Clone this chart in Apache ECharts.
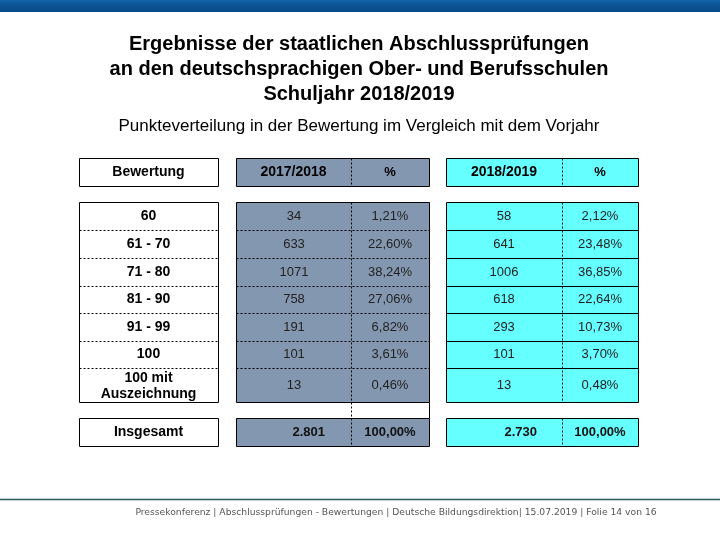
<!DOCTYPE html>
<html><head><meta charset="utf-8">
<script src="https://cdn.jsdelivr.net/npm/echarts@6/dist/echarts.min.js"></script>
<style>html,body{margin:0;padding:0;background:#fff}#c{width:720px;height:540px}</style>
</head><body><div id="c"></div>
<script>
// ---- data ----
const titleLines = ['Ergebnisse der staatlichen Abschlussprüfungen','an den deutschsprachigen Ober- und Berufsschulen','Schuljahr 2018/2019'];
const subtitle = 'Punkteverteilung in der Bewertung im Vergleich mit dem Vorjahr';
const footer = 'Pressekonferenz | Abschlussprüfungen - Bewertungen | Deutsche Bildungsdirektion| 15.07.2019 | Folie 14 von 16';
const headers = ['Bewertung','2017/2018','%','2018/2019','%'];
const bewertung = ['60','61 - 70','71 - 80','81 - 90','91 - 99','100','100 mit\nAuszeichnung'];
const anzahl2018 = [34,633,1071,758,191,101,13];
const prozent2018 = [1.21,22.60,38.24,27.06,6.82,3.61,0.46];
const anzahl2019 = [58,641,1006,618,293,101,13];
const prozent2019 = [2.12,23.48,36.85,22.64,10.73,3.70,0.48];
const totalLabel = 'Insgesamt';
const total2018 = 2801, totalPct2018 = 100.00;
const total2019 = 2730, totalPct2019 = 100.00;

// ---- layout ----
const COL = {bew:[79,218], g:[236,351,429], c:[446,562,638]};
const HEAD = [158,186];
const ROWS = [202,230,258,286,313,341,368,402];
const TOT = [418,446];
const GRAY = '#8497b0', CYAN = '#66ffff';
const FONT = '"Liberation Sans", Arial, sans-serif';

function pct(v){return v.toFixed(2).replace('.',',')+'%';}
function thou(n){return String(n).replace(/\B(?=(\d{3})+(?!\d))/g,'.');}

const chart = echarts.init(document.getElementById('c'), null, {renderer:'canvas'});

function txt(p, s, opt){
  return {type:'text', z2:20, style:Object.assign({x:p[0], y:p[1], text:s, align:'center', verticalAlign:'middle',
    fill:'#000', font:'14px '+FONT}, opt||{})};
}
function rectShape(api,x0,y0,x1,y1){
  const a = api.coord([x0,y0]), b = api.coord([x1,y1]);
  return {x:a[0], y:a[1], width:b[0]-a[0], height:b[1]-a[1]};
}
function line(api,x0,y0,x1,y1,dash){
  const a = api.coord([x0,y0]), b = api.coord([x1,y1]);
  return {type:'line', z2:10, shape:{x1:a[0]+0.5,y1:a[1]+0.5,x2:b[0]+0.5,y2:b[1]+0.5},
    style:{stroke:'#000', lineWidth:1, lineDash:dash?[2,2]:null}};
}

const bodyData = bewertung.map((b,i)=>[i, anzahl2018[i], prozent2018[i], anzahl2019[i], prozent2019[i]]);

const option = {
  animation:false,
  grid:{left:0,right:0,top:0,bottom:0},
  xAxis:{type:'value',min:0,max:720,show:false},
  yAxis:{type:'value',min:0,max:540,inverse:true,show:false},
  graphic:[
    {type:'rect', left:0, top:0, shape:{width:720,height:12}, style:{fill:new echarts.graphic.LinearGradient(0,0,0,1,[{offset:0,color:'#1463aa'},{offset:0.5,color:'#0b5394'},{offset:1,color:'#0a4a86'}])}},
    ...titleLines.map((t,i)=>({type:'text', x:359, y:44+i*25, style:{text:t, align:'center', verticalAlign:'middle', font:'bold 20px '+FONT, fill:'#000'}})),
    {type:'text', x:359, y:126, style:{text:subtitle, align:'center', verticalAlign:'middle', font:'17px '+FONT, fill:'#000'}},
    {type:'line', shape:{x1:0,y1:499.5,x2:720,y2:499.5}, style:{stroke:'#2d5a5a', lineWidth:1.5}},
    {type:'text', x:396, y:513, style:{text:footer, align:'center', verticalAlign:'middle', font:'9.2px "DejaVu Sans", sans-serif', fill:'#555'}}
  ],
  series:[
    {
      type:'custom', name:'body', z:2, data:bodyData,
      renderItem:function(params, api){
        const i = api.value(0);
        const y0 = ROWS[i], y1 = ROWS[i+1], ym = (y0+y1)/2;
        const ch = [];
        ch.push({type:'rect', z2:0, shape:rectShape(api,COL.g[0],y0,COL.g[2],y1), style:{fill:GRAY}});
        ch.push({type:'rect', z2:0, shape:rectShape(api,COL.c[0],y0,COL.c[2],y1), style:{fill:CYAN}});
        const lbl = bewertung[i];
        ch.push(txt(api.coord([(COL.bew[0]+COL.bew[1])/2, ym+(lbl.indexOf('\n')>=0?1:0)]), lbl, {font:'bold 14px '+FONT, lineHeight:16}));
        const nf = {font:'13px '+FONT, fill:'#222'};
        ch.push(txt(api.coord([(COL.g[0]+COL.g[1])/2+0.5, ym]), String(api.value(1)), nf));
        ch.push(txt(api.coord([(COL.g[1]+COL.g[2])/2, ym]), pct(api.value(2)), nf));
        ch.push(txt(api.coord([(COL.c[0]+COL.c[1])/2, ym]), String(api.value(3)), nf));
        ch.push(txt(api.coord([(COL.c[1]+COL.c[2])/2, ym]), pct(api.value(4)), nf));
        return {type:'group', children:ch};
      }
    },
    {
      type:'custom', name:'frame', z:3, data:[[total2018,totalPct2018,total2019,totalPct2019]],
      renderItem:function(params, api){
        const ch = [];
        const hm = (HEAD[0]+HEAD[1])/2;
        ch.push({type:'rect', shape:rectShape(api,COL.g[0],HEAD[0],COL.g[2],HEAD[1]), style:{fill:GRAY}});
        ch.push({type:'rect', shape:rectShape(api,COL.c[0],HEAD[0],COL.c[2],HEAD[1]), style:{fill:CYAN}});
        ch.push({type:'rect', shape:rectShape(api,COL.g[0],TOT[0],COL.g[2],TOT[1]), style:{fill:GRAY}});
        ch.push({type:'rect', shape:rectShape(api,COL.c[0],TOT[0],COL.c[2],TOT[1]), style:{fill:CYAN}});
        const hf = {font:'bold 14px '+FONT};
        ch.push(txt(api.coord([(COL.bew[0]+COL.bew[1])/2, hm]), headers[0], hf));
        ch.push(txt(api.coord([(COL.g[0]+COL.g[1])/2, hm]), headers[1], hf));
        ch.push(txt(api.coord([(COL.g[1]+COL.g[2])/2, hm]), headers[2], {font:'bold 13px '+FONT}));
        ch.push(txt(api.coord([(COL.c[0]+COL.c[1])/2, hm]), headers[3], hf));
        ch.push(txt(api.coord([(COL.c[1]+COL.c[2])/2, hm]), headers[4], {font:'bold 13px '+FONT}));
        // row separators in body
        for (let i = 1; i < ROWS.length-1; i++){
          const y = ROWS[i];
          ch.push(line(api,COL.bew[0],y,COL.bew[1],y,true));
          ch.push(line(api,COL.g[0],y,COL.g[2],y,true));
          ch.push(line(api,COL.c[0],y,COL.c[2],y,false));
        }
        // boxes
        [[HEAD[0],HEAD[1]],[ROWS[0],ROWS[ROWS.length-1]],[TOT[0],TOT[1]]].forEach(r=>{
          [COL.bew, COL.g, COL.c].forEach(c=>{
            const s = rectShape(api,c[0],r[0],c[c.length-1],r[1]);
            s.x+=0.5; s.y+=0.5;
            ch.push({type:'rect', z2:12, shape:s, style:{fill:null, stroke:'#000', lineWidth:1}});
          });
          ch.push(line(api,COL.c[1],r[0],COL.c[1],r[1],true));
        });
        ch.push(line(api,COL.g[1],HEAD[0],COL.g[1],HEAD[1],true));
        ch.push(line(api,COL.g[1],ROWS[0],COL.g[1],TOT[1],true));
        ch.push(line(api,COL.g[2],ROWS[ROWS.length-1],COL.g[2],TOT[0],false));
        // totals
        const tm = (TOT[0]+TOT[1])/2;
        const tf = {font:'bold 13px '+FONT, fill:'#111'};
        ch.push(txt(api.coord([(COL.bew[0]+COL.bew[1])/2, tm]), totalLabel, {font:'bold 14px '+FONT}));
        ch.push(txt(api.coord([COL.g[1]-26, tm]), thou(api.value(0)), Object.assign({align:'right'},tf)));
        ch.push(txt(api.coord([(COL.g[1]+COL.g[2])/2, tm]), pct(api.value(1)), tf));
        ch.push(txt(api.coord([COL.c[1]-25, tm]), thou(api.value(2)), Object.assign({align:'right'},tf)));
        ch.push(txt(api.coord([(COL.c[1]+COL.c[2])/2, tm]), pct(api.value(3)), tf));
        return {type:'group', children:ch};
      }
    }
  ]
};
chart.setOption(option);
</script></body></html>
